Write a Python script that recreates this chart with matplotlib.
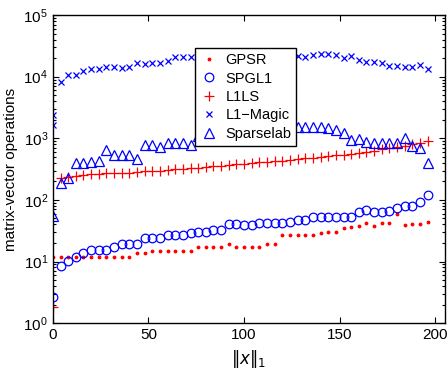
import numpy as np
import matplotlib
matplotlib.use('Agg')
import matplotlib.pyplot as plt
from matplotlib.ticker import LogLocator, NullFormatter

plt.rcParams['font.family'] = ['Liberation Sans', 'DejaVu Sans']
plt.rcParams['mathtext.fontset'] = 'dejavusans'

# ||x||_1 values, one test every 4 units
x = np.arange(0, 197, 4)

gpsr = [12, 12, 12, 12, 12, 12, 12, 12, 12, 12,
        12, 13.5, 13.5, 15, 15, 15, 15, 15, 15, 17,
        17, 17, 17, 19.5, 17, 17, 17, 17, 19, 19,
        27, 27, 27, 27, 27, 28.5, 30, 30, 35, 36.5,
        37, 41.5, 37.5, 41.5, 41.5, 58, 39, 40, 40, 43]

spgl1 = [2.7, 8.5, 10.1, 11.7, 13.5, 15.3, 15.3, 15.3, 17.3, 19.2,
         19.2, 19.2, 24.5, 24.5, 24.5, 26.8, 26.8, 26.8, 28.6, 30.3,
         30.3, 32.4, 32.4, 40, 40, 39, 39, 41.5, 41.5, 41.5,
         41.5, 43, 48, 48, 52, 52, 53, 53, 53, 53,
         64.6, 68.6, 62.6, 62.6, 66.7, 75, 79, 79, 93, 120]

l1ls = [1.8, 225, 235, 245, 255, 262, 265, 270, 272, 275,
        278, 282, 290, 295, 300, 305, 312, 318, 325, 335,
        345, 352, 360, 368, 378, 385, 395, 405, 415, 425,
        435, 448, 460, 472, 485, 500, 515, 530, 545, 560,
        580, 600, 630, 660, 690, 720, 760, 800, 840, 900]

# L1-Magic has two runs at ||x||_1 = 0
magic_x = [0] + list(x)
magic = [2400, 1650, 8200, 10600, 10600, 12300, 13300, 13300, 14300, 14300,
         13800, 14300, 16600, 16000, 16600, 16600, 17900, 20800, 20800, 20800,
         21000, 21500, 21800, 22000, 22500, 22000, 22500, 23000, 22500, 23000,
         22000, 22500, 21500, 21500, 20800, 22400, 23300, 23300, 22400, 20000,
         21600, 18600, 17300, 17300, 16600, 14900, 14900, 14300, 14300, 15400,
         13300]

sparselab = [55, 185, 223, 392, 392, 416, 425, 643, 534, 534,
             534, 454, 776, 776, 728, 826, 826, 826, 776, 1100,
             1200, 1250, 1300, 1350, 1400, 1400, 1450, 1450, 1500, 1500,
             1550, 1550, 1500, 1520, 1520, 1520, 1480, 1350, 1215, 935,
             960, 867, 840, 840, 840, 840, 1010, 746, 690, 396]

fig = plt.figure(figsize=(4.48, 3.68), dpi=100)
ax = fig.add_axes([0.118, 0.122, 0.875, 0.837])

ax.plot(x, gpsr, '.', color='r', markersize=3.5, label='GPSR')
ax.plot(x, spgl1, 'o', color='b', markerfacecolor='none', markersize=6.2, markeredgewidth=0.9, label='SPGL1')
ax.plot(x, l1ls, '+', color='r', markersize=6.5, markeredgewidth=0.9, label='L1LS')
ax.plot(magic_x, magic, 'x', color='b', markersize=4.5, markeredgewidth=0.9, label='L1\u2212Magic')
ax.plot(x, sparselab, '^', color='b', markerfacecolor='none', markersize=7, markeredgewidth=0.9, label='Sparselab')

ax.set_yscale('log')
ax.set_ylim(1, 1e5)
ax.set_xlim(0, 205)
ax.set_xticks([0, 50, 100, 150, 200])
ax.yaxis.set_major_locator(LogLocator(base=10, numticks=10))
ax.yaxis.set_minor_locator(LogLocator(base=10, subs=np.arange(2, 10), numticks=20))
ax.yaxis.set_minor_formatter(NullFormatter())

ax.tick_params(which='both', direction='in', top=True, right=True, labelsize=11, width=0.8)
ax.tick_params(which='major', length=4.5)
ax.tick_params(which='minor', length=2.5)
for s in ax.spines.values():
    s.set_linewidth(1.0)

ax.set_ylabel('matrix-vector operations', fontsize=11)
ax.set_xlabel(r'$\|x\|_1$', fontsize=12)

leg = ax.legend(loc='upper left', bbox_to_anchor=(0.362, 0.893), borderaxespad=0,
                fontsize=10.5, fancybox=False, framealpha=1, edgecolor='k',
                handletextpad=0.45, borderpad=0.35, labelspacing=0.3, handlelength=1.3)
leg.get_frame().set_linewidth(1.0)

fig.savefig('out.png', dpi=100)
